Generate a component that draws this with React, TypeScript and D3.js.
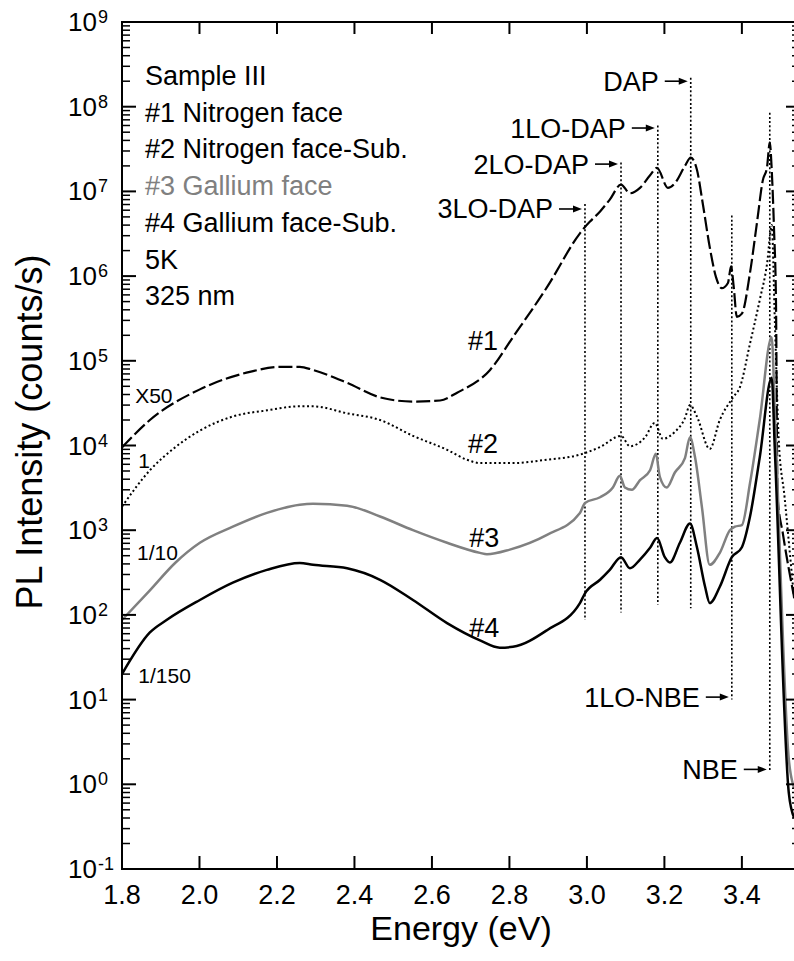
import React from "react";
import * as d3 from "d3";

// ---- Data ----
const energy1 = [1.80,1.872,2.001,2.13,2.208,2.259,2.293,2.381,2.466,2.551,2.621,2.665,2.75,2.809,2.897,2.982,2.995,3.008,3.034,3.059,3.088,3.111,3.137,3.163,3.181,3.209,3.227,3.253,3.268,3.284,3.299,3.317,3.333,3.348,3.364,3.372,3.379,3.387,3.40,3.421,3.439,3.454,3.465,3.472,3.477,3.483,3.488,3.492,3.506,3.535];
const values1 = [9.5e3,2.0e4,4.6e4,7.4e4,8.5e4,8.5e4,7.8e4,5.5e4,3.7e4,3.3e4,3.4e4,4.2e4,7.8e4,1.9e5,7.4e5,3.2e6,3.8e6,4.4e6,5.8e6,8.0e6,1.2e7,9.5e6,1.1e7,1.55e7,1.9e7,1.1e7,1.25e7,2.0e7,2.5e7,1.8e7,7.2e6,2.2e6,9.8e5,7.2e5,8.3e5,1.3e6,7.4e5,3.3e5,3.6e5,1.1e6,4.3e6,1.35e7,1.95e7,3.8e7,1.8e7,3.5e6,5e5,2.5e3,9e2,1.6e2];

const energy2 = [1.80,1.872,1.937,2.001,2.086,2.174,2.259,2.293,2.381,2.466,2.551,2.639,2.69,2.724,2.809,2.897,2.982,3.034,3.088,3.111,3.15,3.175,3.196,3.227,3.253,3.266,3.284,3.317,3.343,3.377,3.395,3.421,3.446,3.465,3.477,3.485,3.495,3.51,3.535];
const values2 = [1.9e3,5.1e3,9.5e3,1.5e4,2.2e4,2.6e4,2.9e4,2.9e4,2.4e4,2.0e4,1.3e4,8.9e3,6.8e3,6.2e3,6.2e3,6.8e3,7.8e3,9.6e3,1.3e4,9.8e3,1.25e4,1.85e4,1.2e4,1.45e4,2.1e4,3.0e4,2.2e4,9.1e3,2.0e4,3.7e4,4.9e4,1.6e5,5.2e5,1.4e6,4.0e6,3.0e5,1.2e4,2.5e3,1.5e2];

const energy3 = [1.80,1.872,1.937,2.001,2.086,2.174,2.259,2.293,2.381,2.466,2.551,2.639,2.724,2.742,2.801,2.897,2.982,2.995,3.034,3.067,3.085,3.098,3.116,3.137,3.163,3.178,3.188,3.206,3.227,3.253,3.266,3.279,3.297,3.317,3.343,3.369,3.382,3.40,3.421,3.446,3.477,3.485,3.521,3.535];
const values3 = [87,195,410,710,1.1e3,1.6e3,2.0e3,2.05e3,1.95e3,1.45e3,1.0e3,710,540,520,590,880,1.6e3,2.1e3,2.45e3,3.2e3,4.4e3,3.2e3,3.0e3,3.9e3,5.1e3,8.0e3,4.3e3,3.2e3,4.8e3,7.1e3,1.25e4,7.3e3,1.85e3,390,540,1.0e3,1.1e3,1.15e3,3.6e3,2.0e4,1.9e5,2.5e4,2.0,0.9];

const energy4 = [1.80,1.872,1.915,2.001,2.086,2.174,2.259,2.293,2.381,2.466,2.551,2.639,2.724,2.775,2.809,2.897,2.982,2.995,3.034,3.059,3.088,3.111,3.137,3.163,3.181,3.201,3.214,3.24,3.266,3.284,3.305,3.317,3.343,3.374,3.40,3.421,3.446,3.477,3.485,3.521,3.535];
const values4 = [20,62,87,150,240,340,410,390,355,260,150,80,50,41,42,66,138,180,260,340,480,355,450,620,810,480,415,710,1.2e3,630,215,138,215,480,630,1.45e3,7.2e3,6.3e4,9e3,0.8,0.4];

const annLabels = ["3LO-DAP","2LO-DAP","1LO-DAP","DAP","1LO-NBE","NBE"];
const annEnergy = [2.995,3.088,3.183,3.268,3.374,3.472];
const annTop = [7.1e6,2.2e7,6.0e7,2.2e8,5.2e6,8.5e7];
const annBottom = [87,107,132,120,10,1.4];
const annArrowAt = [6.2e6,2.1e7,5.6e7,2.0e8,10.7,1.5];

const xTicks = [1.8,2.0,2.2,2.4,2.6,2.8,3.0,3.2,3.4];
const yDecades = [-1,0,1,2,3,4,5,6,7,8,9];

const legendLines = ["Sample III","#1 Nitrogen face","#2 Nitrogen face-Sub.","#3 Gallium face","#4 Gallium face-Sub.","5K","325 nm"];
const legendColors = ["#000","#000","#000","#808080","#000","#000","#000"];

const seriesLabels = ["#1","#2","#3","#4"];
const seriesLabelPos = [[2.693, 1.35e5],[2.693, 8.1e3],[2.696, 6.3e2],[2.696, 5.5e1]];
const scaleLabels = ["X50","1","1/10","1/150"];
const scaleLabelPos = [[1.834, 3.2e4],[1.842, 5.4e3],[1.839, 4.5e2],[1.842, 1.58e1]];

const FONT = "'Liberation Sans', Arial, Helvetica, sans-serif";

export default function App() {
  const W = 794, H = 961;
  const x = d3.scaleLinear().domain([1.8, 3.55]).range([122, 800]);
  const y = d3.scaleLog().domain([0.1, 1e9]).range([869, 22]);

  const line = d3.line<[number, number]>()
    .x(d => x(d[0]))
    .y(d => y(d[1]))
    .curve(d3.curveMonotoneX);

  const mk = (es: number[], vs: number[]) => line(es.map((e, i) => [e, vs[i]] as [number, number])) || "";

  const series = [
    { d: mk(energy1, values1), stroke: "#000", width: 2.2, dash: "14,4" },
    { d: mk(energy2, values2), stroke: "#000", width: 2, dash: "2,2.6" },
    { d: mk(energy3, values3), stroke: "#808080", width: 2.5, dash: undefined },
    { d: mk(energy4, values4), stroke: "#000", width: 2.5, dash: undefined },
  ];

  const minorTicks: number[] = [];
  for (let k = -1; k < 9; k++) for (let m = 2; m <= 9; m++) minorTicks.push(m * Math.pow(10, k));

  const left = x(1.8), right = x(3.55), top = y(1e9), bottom = y(0.1);

  return (
    <svg width={W} height={H} style={{ position: "absolute", left: 0, top: 0, background: "#fff" }} fontFamily={FONT}>
      <defs>
        <clipPath id="plot">
          <rect x={left} y={top} width={right - left} height={bottom - top} />
        </clipPath>
      </defs>
      <rect x={0} y={0} width={W} height={H} fill="#fff" />

      {/* annotation dotted lines */}
      {annLabels.map((lab, i) => {
        const xl = x(annEnergy[i]);
        const ya = y(annArrowAt[i]);
        return (
          <g key={lab}>
            <line x1={xl} x2={xl} y1={y(annTop[i])} y2={y(annBottom[i])} stroke="#000" strokeWidth={1.6} strokeDasharray="2,2.2" />
            <line x1={xl - 26} x2={xl - 9} y1={ya} y2={ya} stroke="#000" strokeWidth={1.6} />
            <polygon points={`${xl - 3},${ya} ${xl - 12},${ya - 3.5} ${xl - 12},${ya + 3.5}`} fill="#000" />
            <text x={xl - 32} y={ya + 9.5} textAnchor="end" fontSize={27}>{lab}</text>
          </g>
        );
      })}

      {/* series */}
      <g clipPath="url(#plot)">
        {series.map((s, i) => (
          <path key={i} d={s.d} fill="none" stroke={s.stroke} strokeWidth={s.width} strokeDasharray={s.dash} strokeLinejoin="round" />
        ))}
      </g>

      {/* axes frame */}
      <rect x={left} y={top} width={right - left} height={bottom - top} fill="none" stroke="#000" strokeWidth={2} />

      {/* x ticks */}
      {xTicks.map(t => (
        <g key={t}>
          {t > 1.8 && <line x1={x(t)} x2={x(t)} y1={bottom} y2={bottom - 13} stroke="#000" strokeWidth={2} />}
          {t > 1.8 && <line x1={x(t)} x2={x(t)} y1={top} y2={top + 12} stroke="#000" strokeWidth={2} />}
          <text x={x(t)} y={904} textAnchor="middle" fontSize={27}>{t.toFixed(1)}</text>
        </g>
      ))}

      {/* y ticks */}
      {yDecades.map(k => {
        const yy = y(Math.pow(10, k));
        return (
          <g key={k}>
            <line x1={left} x2={left + 14} y1={yy} y2={yy} stroke="#000" strokeWidth={2} />
            <line x1={right} x2={right - 14} y1={yy} y2={yy} stroke="#000" strokeWidth={2} />
            <text x={97} y={yy + 9} textAnchor="end" fontSize={26}>10</text>
            <text x={98} y={yy + 1} textAnchor="start" fontSize={18}>{k < 0 ? "-" + (-k) : String(k)}</text>
          </g>
        );
      })}
      {minorTicks.map((v, i) => (
        <g key={"m" + i}>
          <line x1={left} x2={left + 8} y1={y(v)} y2={y(v)} stroke="#000" strokeWidth={1.5} />
          <line x1={right} x2={right - 8} y1={y(v)} y2={y(v)} stroke="#000" strokeWidth={1.5} />
        </g>
      ))}

      {/* axis titles */}
      <text x={461} y={940} textAnchor="middle" fontSize={34}>Energy (eV)</text>
      <text transform={`translate(42,${432}) rotate(-90)`} textAnchor="middle" fontSize={36}>PL Intensity (counts/s)</text>

      {/* legend text */}
      {legendLines.map((t, i) => (
        <text key={t} x={145} y={85 + i * 36.7} fontSize={27} fill={legendColors[i]}>{t}</text>
      ))}

      {/* series labels */}
      {seriesLabels.map((t, i) => (
        <text key={t} x={x(seriesLabelPos[i][0])} y={y(seriesLabelPos[i][1])} fontSize={27}>{t}</text>
      ))}
      {scaleLabels.map((t, i) => (
        <text key={t} x={x(scaleLabelPos[i][0])} y={y(scaleLabelPos[i][1])} fontSize={21}>{t}</text>
      ))}
    </svg>
  );
}
